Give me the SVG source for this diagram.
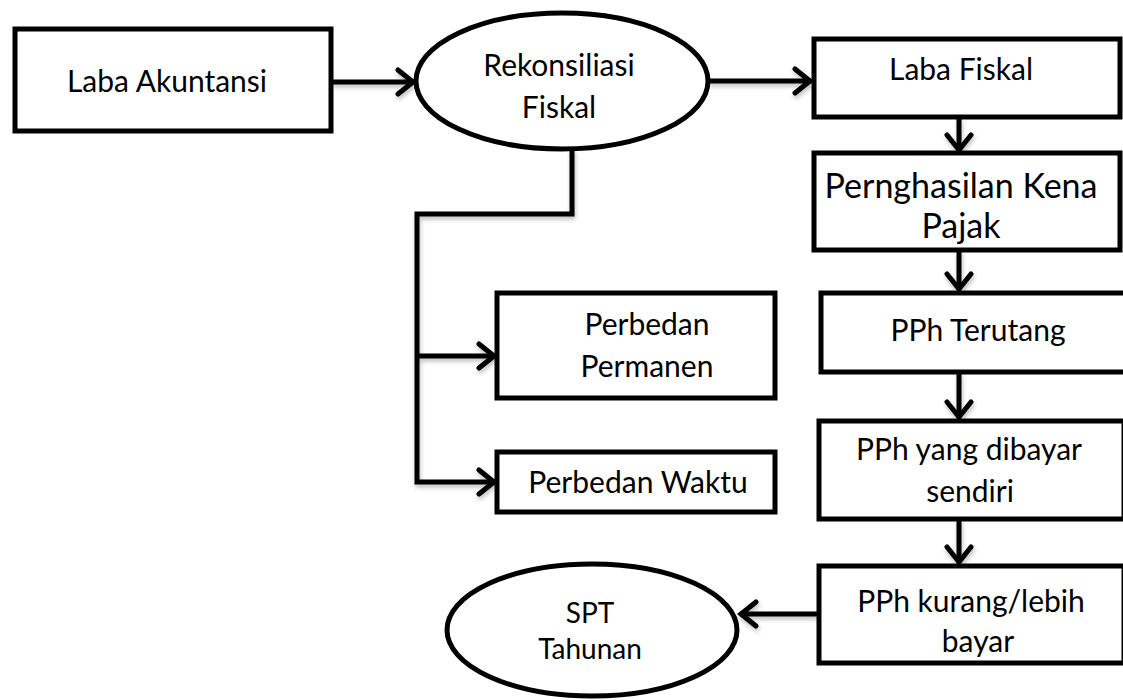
<svg xmlns="http://www.w3.org/2000/svg" width="1123" height="700" viewBox="0 0 1123 700">
<defs>
<style>
.box{fill:#fff;stroke:#000;stroke-width:5}
.lbl{font-family:Lato,"Open Sans",sans-serif;font-size:30px;fill:#000;text-anchor:middle}
.con{fill:none;stroke:#000;stroke-width:5}
</style>
<filter id="sh" x="-10%" y="-10%" width="130%" height="140%">
<feDropShadow dx="1" dy="3" stdDeviation="2" flood-color="#000" flood-opacity="0.25"/>
</filter>
<marker id="ah" viewBox="-20 -15 24 30" refX="0" refY="0" markerWidth="24" markerHeight="30" markerUnits="userSpaceOnUse" orient="auto">
<path d="M-16,-12 L-1,0 L-16,12" fill="none" stroke="#000" stroke-width="5" stroke-linecap="round"/>
</marker>
</defs>
<rect width="1123" height="700" fill="#fff"/>
<g id="connectors" filter="url(#sh)">
<path class="con" d="M332,82 L414,82" marker-end="url(#ah)"/>
<path class="con" d="M708,81 L811,81" marker-end="url(#ah)"/>
<path class="con" d="M572,149 L572,214 L417,214 L417,482 L495,482" marker-end="url(#ah)"/>
<path class="con" d="M417,356 L495,356" marker-end="url(#ah)"/>
<path class="con" d="M959,117 L959,151" marker-end="url(#ah)"/>
<path class="con" d="M959,250 L959,290" marker-end="url(#ah)"/>
<path class="con" d="M959,372 L959,418" marker-end="url(#ah)"/>
<path class="con" d="M959,519 L959,563" marker-end="url(#ah)"/>
<path class="con" d="M818,614 L740,614" marker-end="url(#ah)"/>
</g>
<g id="laba-akuntansi">
<rect class="box" x="15" y="29" width="316" height="102"/>
<text class="lbl" x="167" y="92">Laba Akuntansi</text>
</g>
<g id="rekonsiliasi-fiskal">
<ellipse class="box" cx="562" cy="81" rx="146" ry="68"/>
<text class="lbl" x="559" y="76">Rekonsiliasi</text>
<text class="lbl" x="559" y="118">Fiskal</text>
</g>
<g id="laba-fiskal">
<rect class="box" x="814" y="39" width="306" height="78"/>
<text class="lbl" x="961" y="80">Laba Fiskal</text>
</g>
<g id="penghasilan-kena-pajak">
<rect class="box" x="814" y="153" width="306" height="97"/>
<text class="lbl" x="961" y="198" style="font-size:34px">Pernghasilan Kena</text>
<text class="lbl" x="961" y="238" style="font-size:34px">Pajak</text>
</g>
<g id="pph-terutang">
<rect class="box" x="821" y="293" width="320" height="79"/>
<text class="lbl" x="978" y="341">PPh Terutang</text>
</g>
<g id="pph-dibayar-sendiri">
<rect class="box" x="819" y="421" width="305" height="98"/>
<text class="lbl" x="969" y="460">PPh yang dibayar</text>
<text class="lbl" x="970" y="502">sendiri</text>
</g>
<g id="pph-kurang-lebih">
<rect class="box" x="819" y="566" width="305" height="97"/>
<text class="lbl" x="971" y="612">PPh kurang/lebih</text>
<text class="lbl" x="978" y="652">bayar</text>
</g>
<g id="perbedaan-permanen">
<rect class="box" x="497" y="293" width="278" height="105"/>
<text class="lbl" x="647" y="335">Perbedan</text>
<text class="lbl" x="647" y="377">Permanen</text>
</g>
<g id="perbedaan-waktu">
<rect class="box" x="497" y="452" width="278" height="60"/>
<text class="lbl" x="638" y="493">Perbedan Waktu</text>
</g>
<g id="spt-tahunan">
<ellipse class="box" cx="592" cy="630" rx="145" ry="66"/>
<text class="lbl" x="590" y="623" style="font-size:28px">SPT</text>
<text class="lbl" x="590" y="659" style="font-size:28px">Tahunan</text>
</g>
</svg>
